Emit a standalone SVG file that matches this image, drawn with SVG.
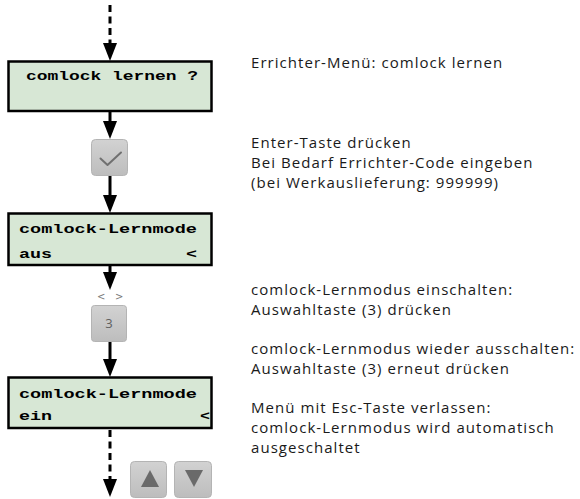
<svg xmlns="http://www.w3.org/2000/svg" width="580" height="499" viewBox="0 0 580 499">
<defs>
<style>
.box{fill:#d7e7d5;stroke:#000;stroke-width:2.5}
.lcd{font-family:"Liberation Mono","DejaVu Sans Mono",monospace;font-weight:bold;font-size:13.5px;fill:#000}
.txt{font-family:"Open Sans","Noto Sans",sans-serif;font-size:15px;letter-spacing:1.05px;fill:#1a1a1a}
.line{stroke:#000;stroke-width:3;fill:none}
.dash{stroke:#000;stroke-width:3;fill:none;stroke-dasharray:7 4.5}
.key{fill:url(#kg);stroke:#b4b4b4;stroke-width:1}
.keytxt{font-family:"Open Sans","Noto Sans",sans-serif;font-size:13px;fill:#606060}
.sel{font-family:"DejaVu Sans",sans-serif;font-size:10px;fill:#7a7a7a}
</style>
<linearGradient id="kg" x1="0" y1="0" x2="0" y2="1">
<stop offset="0" stop-color="#d2d2d2"/>
<stop offset="1" stop-color="#bdbdbd"/>
</linearGradient>
</defs>

<g id="connectors">
<path class="dash" d="M110,5 V43"/>
<path d="M103,43 L117,43 L110,61 Z" fill="#000"/>
<path class="line" d="M110,111 V122"/>
<path d="M103,121 L117,121 L110,139 Z" fill="#000"/>
<path class="line" d="M110,175 V196"/>
<path d="M103,195 L117,195 L110,213 Z" fill="#000"/>
<path class="line" d="M110,265 V273"/>
<path d="M103,272 L117,272 L110,290 Z" fill="#000"/>
<path class="line" d="M110,341 V360"/>
<path d="M103,359 L117,359 L110,377 Z" fill="#000"/>
<path class="dash" d="M110,430 V480"/>
<path d="M103,479 L117,479 L110,497 Z" fill="#000"/>
</g>

<g id="lcd1">
<rect class="box" x="8.5" y="61.5" width="203" height="49.5"/>
<text class="lcd" x="26" y="80" textLength="172" lengthAdjust="spacingAndGlyphs">comlock lernen ?</text>
</g>

<g id="key-enter">
<rect class="key" x="91.5" y="139.5" width="36" height="36" rx="4"/>
<path d="M100.5,158.5 L107.5,165 L121,152.5" fill="none" stroke="#707070" stroke-width="2" stroke-linecap="round" stroke-linejoin="round"/>
</g>

<g id="lcd2">
<rect class="box" x="8.5" y="213.5" width="203" height="51.5"/>
<text class="lcd" x="19" y="233" textLength="178" lengthAdjust="spacingAndGlyphs">comlock-Lernmode</text>
<text class="lcd" x="19" y="258" textLength="33" lengthAdjust="spacingAndGlyphs">aus</text>
<text class="lcd" x="186" y="258" textLength="11" lengthAdjust="spacingAndGlyphs">&lt;</text>
</g>

<g id="key-3">
<text class="sel" x="97" y="300">&lt;</text>
<text class="sel" x="115" y="300">&gt;</text>
<rect class="key" x="91.5" y="305.5" width="35" height="36" rx="3"/>
<text class="keytxt" x="109" y="328" text-anchor="middle">3</text>
</g>

<g id="lcd3">
<rect class="box" x="8.5" y="377.5" width="203" height="50.5"/>
<text class="lcd" x="19" y="398" textLength="178" lengthAdjust="spacingAndGlyphs">comlock-Lernmode</text>
<text class="lcd" x="19" y="420" textLength="33" lengthAdjust="spacingAndGlyphs">ein</text>
<text class="lcd" x="200" y="420" textLength="10" lengthAdjust="spacingAndGlyphs">&lt;</text>
</g>

<g id="key-up">
<rect class="key" x="130.5" y="461.5" width="36" height="36" rx="4"/>
<path d="M141,487 L159,487 L150,470 Z" fill="#6a6a6a"/>
</g>
<g id="key-down">
<rect class="key" x="174.5" y="461.5" width="37" height="36" rx="4"/>
<path d="M185,470 L203,470 L194,487 Z" fill="#6a6a6a"/>
</g>

<g id="descriptions">
<text class="txt" x="251" y="68">Errichter-Menü: comlock lernen</text>
<text class="txt" x="251" y="148">Enter-Taste drücken</text>
<text class="txt" x="251" y="168">Bei Bedarf Errichter-Code eingeben</text>
<text class="txt" x="251" y="188">(bei Werkauslieferung: 999999)</text>
<text class="txt" x="251" y="295">comlock-Lernmodus einschalten:</text>
<text class="txt" x="251" y="315">Auswahltaste (3) drücken</text>
<text class="txt" x="251" y="354">comlock-Lernmodus wieder ausschalten:</text>
<text class="txt" x="251" y="374">Auswahltaste (3) erneut drücken</text>
<text class="txt" x="251" y="413">Menü mit Esc-Taste verlassen:</text>
<text class="txt" x="251" y="433">comlock-Lernmodus wird automatisch</text>
<text class="txt" x="251" y="453">ausgeschaltet</text>
</g>
</svg>
